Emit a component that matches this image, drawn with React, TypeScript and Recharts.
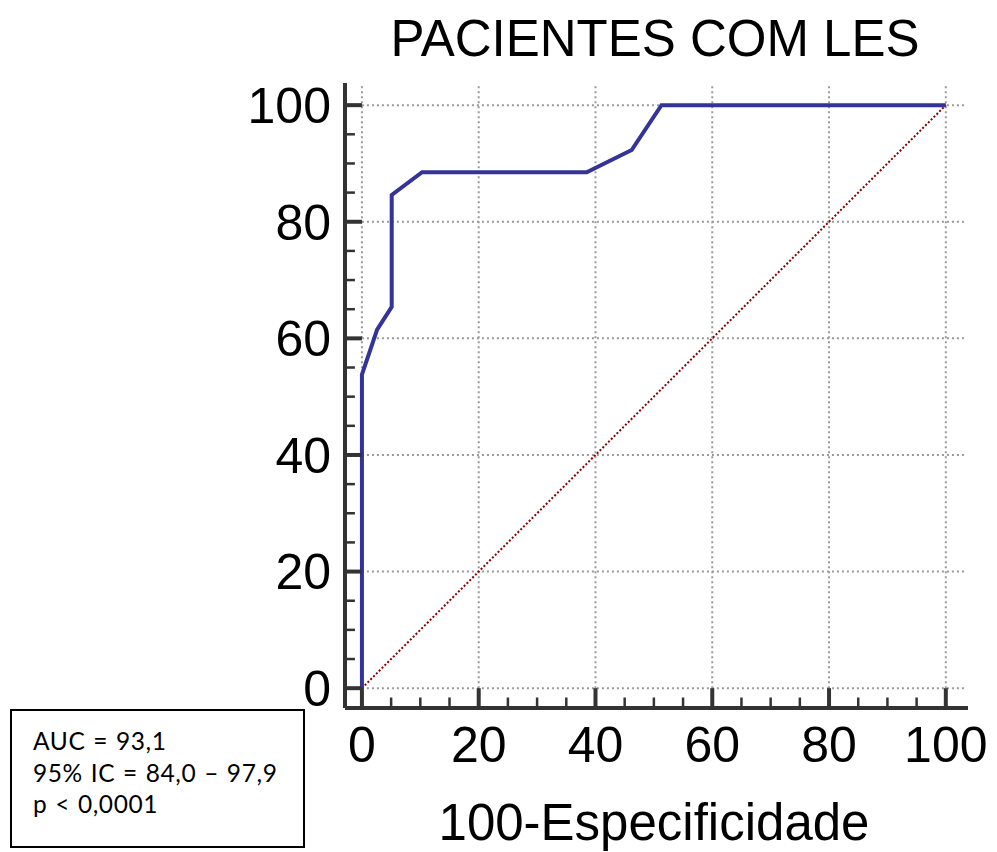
import React from 'react';
import { LineChart, Line, XAxis, YAxis, ReferenceLine } from 'recharts';

const rocX = [0, 0, 2.6, 5.1, 5.1, 10.3, 38.5, 46.2, 51.3, 100];
const rocY = [0, 53.8, 61.5, 65.4, 84.6, 88.5, 88.5, 92.3, 100, 100];
const diagX = [0, 100];
const diagY = [0, 100];
const majorTicks = [0, 20, 40, 60, 80, 100];
const minorTicks = [5, 10, 15, 25, 30, 35, 45, 50, 55, 65, 70, 75, 85, 90, 95];
const title = 'PACIENTES COM LES';
const xLabel = '100-Especificidade';
const statLines = ['AUC = 93,1', '95% IC = 84,0 \u2013 97,9', 'p < 0,0001'];

const X_DOMAIN: [number, number] = [-2.9, 103.8];
const Y_DOMAIN: [number, number] = [-3.4, 103.8];
const GRID_X_END = 103.2;
const GRID_Y_END = 103.4;

const rocData = rocX.map((x, i) => ({ x, y: rocY[i] }));
const diagData = diagX.map((x, i) => ({ x, y: diagY[i] }));

const FONT = '"Liberation Sans", Arial, sans-serif';
const AXIS = '#333333';
const GRID = '#9a9a9a';

export default function App() {
  return (
    <div style={{ position: 'absolute', left: 0, top: 0, width: 997, height: 852, background: '#fff' }}>
      <LineChart width={997} height={852} margin={{ top: 83, right: 29, bottom: 0, left: 0 }}>
        {majorTicks.map((t) => (
          <ReferenceLine key={'gh' + t} zIndex={-100} segment={[{ x: 0, y: t }, { x: GRID_X_END, y: t }]} stroke={GRID} strokeWidth={2} strokeDasharray="2 3" />
        ))}
        {majorTicks.map((t) => (
          <ReferenceLine key={'gv' + t} zIndex={-100} segment={[{ x: t, y: 0 }, { x: t, y: GRID_Y_END }]} stroke={GRID} strokeWidth={2} strokeDasharray="2 3" />
        ))}
        <XAxis
          type="number"
          dataKey="x"
          domain={X_DOMAIN}
          ticks={majorTicks}
          allowDataOverflow
          height={144}
          tickLine={false}
          tickSize={12}
          tickMargin={6}
          axisLine={{ stroke: AXIS, strokeWidth: 4 }}
          tick={{ fontSize: 50, fill: '#000', fontFamily: FONT }}
        />
        <YAxis
          type="number"
          dataKey="y"
          domain={Y_DOMAIN}
          ticks={majorTicks}
          allowDataOverflow
          width={345}
          tickLine={false}
          tickSize={12}
          tickMargin={2}
          axisLine={{ stroke: AXIS, strokeWidth: 4 }}
          tick={{ fontSize: 50, fill: '#000', fontFamily: FONT }}
        />
        <Line
          data={diagData}
          dataKey="y"
          stroke="#8B0000"
          strokeWidth={2}
          strokeDasharray="2 2"
          dot={false}
          isAnimationActive={false}
        />
        <Line
          data={rocData}
          dataKey="y"
          stroke="#333399"
          strokeWidth={4}
          dot={false}
          strokeLinejoin="miter"
          isAnimationActive={false}
        />
        {majorTicks.map((t) => (
          <ReferenceLine key={'ym' + t} segment={[{ x: X_DOMAIN[0], y: t }, { x: 0, y: t }]} stroke={AXIS} strokeWidth={4} />
        ))}
        {minorTicks.map((t) => (
          <ReferenceLine key={'yn' + t} segment={[{ x: X_DOMAIN[0], y: t }, { x: -1.2, y: t }]} stroke={AXIS} strokeWidth={2.5} />
        ))}
        {majorTicks.map((t) => (
          <ReferenceLine key={'xm' + t} segment={[{ x: t, y: Y_DOMAIN[0] }, { x: t, y: 0 }]} stroke={AXIS} strokeWidth={4} />
        ))}
        {minorTicks.map((t) => (
          <ReferenceLine key={'xn' + t} segment={[{ x: t, y: Y_DOMAIN[0] }, { x: t, y: -1.6 }]} stroke={AXIS} strokeWidth={2.5} />
        ))}
      </LineChart>
      <div
        style={{
          position: 'absolute', left: 355, top: 13, width: 600, textAlign: 'center',
          fontFamily: FONT, fontSize: 51, lineHeight: '51px', color: '#000', whiteSpace: 'nowrap',
        }}
      >
        {title}
      </div>
      <div
        style={{
          position: 'absolute', left: 354, top: 797, width: 600, textAlign: 'center',
          fontFamily: FONT, fontSize: 51, lineHeight: '51px', color: '#000', whiteSpace: 'nowrap',
        }}
      >
        {xLabel}
      </div>
      <div
        style={{
          position: 'absolute', left: 10, top: 709, width: 295, height: 139, boxSizing: 'border-box',
          border: '2px solid #000', paddingTop: 14, paddingLeft: 21,
          fontFamily: 'Lato, "Open Sans", sans-serif', fontSize: 24.5, lineHeight: '31.5px', color: '#000',
          letterSpacing: 0.6, wordSpacing: 1, background: '#fff',
        }}
      >
        {statLines.map((s) => (
          <div key={s} style={{ whiteSpace: 'nowrap' }}>{s}</div>
        ))}
      </div>
    </div>
  );
}
